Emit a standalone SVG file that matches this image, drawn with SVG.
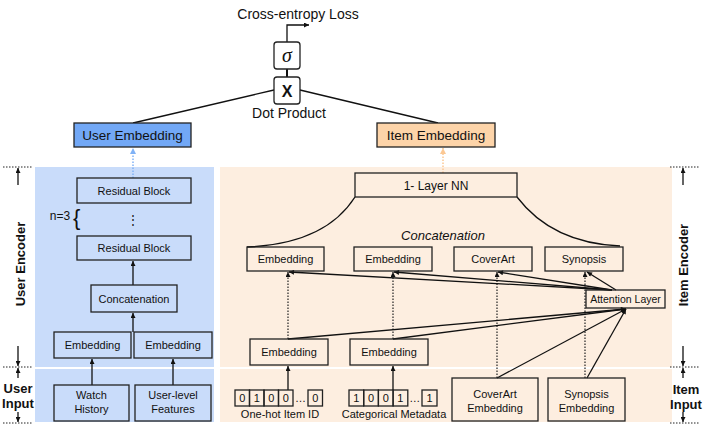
<svg xmlns="http://www.w3.org/2000/svg" width="706" height="426" viewBox="0 0 706 426">
<style>
.t{font-family:"Liberation Sans",Arial,sans-serif;fill:#111;text-anchor:middle}
.b{fill:none;stroke:#222;stroke-width:1.3}
.w{fill:#fff;stroke:#222;stroke-width:1.3}
.c{fill:none;stroke:#111;stroke-width:1.3}
.d{fill:none;stroke:#222;stroke-width:1.2;stroke-dasharray:1.5 1.5}
.g{fill:none;stroke:#222;stroke-width:1;stroke-dasharray:1.5 1.5}
.lb{font-family:"Liberation Sans",Arial,sans-serif;font-weight:bold;font-size:13px;fill:#111;text-anchor:middle}
</style>
<defs>
<marker id="ah" viewBox="0 0 10 10" refX="10" refY="5" markerWidth="6" markerHeight="5" orient="auto" markerUnits="userSpaceOnUse"><path d="M0,0 L10,5 L0,10 z" fill="#111"/></marker>
<marker id="ahb" viewBox="0 0 10 10" refX="10" refY="5" markerWidth="7" markerHeight="6" orient="auto" markerUnits="userSpaceOnUse"><path d="M0,0 L10,5 L0,10 z" fill="#80b2f6"/></marker>
<marker id="aho" viewBox="0 0 10 10" refX="10" refY="5" markerWidth="7" markerHeight="6" orient="auto" markerUnits="userSpaceOnUse"><path d="M0,0 L10,5 L0,10 z" fill="#fcc893"/></marker>
</defs>

<g id="panels">
<rect x="35" y="167" width="179" height="200" fill="#c9dcfa"/>
<rect x="35" y="369" width="179" height="53" fill="#c9dcfa"/>
<rect x="220" y="167" width="452" height="200" fill="#fdeee0"/>
<rect x="220" y="369" width="452" height="53" fill="#fdeee0"/>
</g>

<g id="guides">
<line x1="3" y1="167" x2="33" y2="167" class="g"/>
<line x1="3" y1="367" x2="33" y2="367" class="g"/>
<line x1="3" y1="423" x2="33" y2="423" class="g"/>
<line x1="18" y1="185" x2="18" y2="168" class="c" stroke-width="1" marker-end="url(#ah)"/>
<line x1="18" y1="346" x2="18" y2="366" class="c" stroke-width="1" marker-end="url(#ah)"/>
<line x1="18" y1="378" x2="18" y2="368" class="c" stroke-width="1" marker-end="url(#ah)"/>
<line x1="18" y1="412" x2="18" y2="422" class="c" stroke-width="1" marker-end="url(#ah)"/>
<text class="lb" transform="translate(24.5,264) rotate(-90)">User Encoder</text>
<text class="lb" x="18" y="393">User</text>
<text class="lb" x="18" y="408">Input</text>
<line x1="670" y1="167" x2="700" y2="167" class="g"/>
<line x1="670" y1="367" x2="700" y2="367" class="g"/>
<line x1="670" y1="423" x2="700" y2="423" class="g"/>
<line x1="683" y1="185" x2="683" y2="168" class="c" stroke-width="1" marker-end="url(#ah)"/>
<line x1="683" y1="346" x2="683" y2="366" class="c" stroke-width="1" marker-end="url(#ah)"/>
<line x1="683" y1="378" x2="683" y2="368" class="c" stroke-width="1" marker-end="url(#ah)"/>
<line x1="683" y1="412" x2="683" y2="422" class="c" stroke-width="1" marker-end="url(#ah)"/>
<text class="lb" transform="translate(688,265) rotate(-90)">Item Encoder</text>
<text class="lb" x="686" y="394">Item</text>
<text class="lb" x="686" y="409">Input</text>
</g>

<g id="connectors">
<polyline points="287,42 287,25 309,25" class="c" marker-end="url(#ah)"/>
<line x1="287" y1="69" x2="287" y2="77" stroke="#111" stroke-width="2"/>
<line x1="133" y1="123" x2="274" y2="90" class="c"/>
<line x1="300" y1="90" x2="438" y2="123" class="c"/>
<line x1="133" y1="178" x2="133" y2="148" stroke="#80b2f6" stroke-width="1.5" stroke-dasharray="1.5 1.5" marker-end="url(#ahb)"/>
<line x1="443" y1="173" x2="443" y2="148" stroke="#fcc893" stroke-width="1.5" stroke-dasharray="1.5 1.5" marker-end="url(#aho)"/>
<line x1="133" y1="285" x2="133" y2="261" class="c" marker-end="url(#ah)"/>
<line x1="133" y1="332" x2="133" y2="313" class="c" marker-end="url(#ah)"/>
<line x1="92" y1="385" x2="92" y2="359" class="c" marker-end="url(#ah)"/>
<line x1="173" y1="385" x2="173" y2="359" class="c" marker-end="url(#ah)"/>
<path d="M355,197 Q325,244 247,247" class="c"/>
<path d="M517,197 Q552,243 620,246" class="c"/>
<line x1="288" y1="339" x2="288" y2="272" class="d" marker-end="url(#ah)"/>
<line x1="393" y1="339" x2="393" y2="272" class="d" marker-end="url(#ah)"/>
<line x1="497" y1="378" x2="497" y2="272" class="d" marker-end="url(#ah)"/>
<line x1="585" y1="378" x2="585" y2="272" class="d" marker-end="url(#ah)"/>
<line x1="612" y1="290" x2="289" y2="272" class="c" marker-end="url(#ah)"/>
<line x1="612" y1="290" x2="394" y2="272" class="c" marker-end="url(#ah)"/>
<line x1="612" y1="290" x2="498" y2="272" class="c" marker-end="url(#ah)"/>
<line x1="616" y1="290" x2="587" y2="272" class="c" marker-end="url(#ah)"/>
<line x1="288" y1="339" x2="626" y2="309" class="c" marker-end="url(#ah)"/>
<line x1="393" y1="339" x2="626" y2="309" class="c" marker-end="url(#ah)"/>
<line x1="497" y1="378" x2="626" y2="309" class="c" marker-end="url(#ah)"/>
<line x1="587" y1="378" x2="626" y2="309" class="c" marker-end="url(#ah)"/>
<line x1="288" y1="390" x2="288" y2="366" class="c" marker-end="url(#ah)"/>
<line x1="393" y1="390" x2="393" y2="366" class="c" marker-end="url(#ah)"/>
</g>

<g id="loss"><text class="t" x="298" y="19" font-size="14">Cross-entropy Loss</text></g>
<g id="sigma"><rect x="274" y="42" width="26" height="27" rx="3" class="w"/><text x="287" y="62" text-anchor="middle" font-family="'Liberation Serif',serif" font-style="italic" font-size="20" fill="#111">σ</text></g>
<g id="dot"><rect x="274" y="77" width="26" height="27" rx="3" class="w"/><text class="t" x="287" y="97" font-size="16" font-weight="bold">X</text><text class="t" x="289" y="118" font-size="14">Dot Product</text></g>
<g id="user-emb"><rect x="74" y="123" width="117" height="24" fill="#72a8f6" stroke="#222" stroke-width="1.3"/><text class="t" x="132.5" y="140" font-size="13.5">User Embedding</text></g>
<g id="item-emb"><rect x="377" y="123" width="118" height="24" fill="#fdd4a9" stroke="#222" stroke-width="1.3"/><text class="t" x="436" y="140" font-size="13.5">Item Embedding</text></g>

<g id="res1"><rect x="77" y="178" width="114" height="25" class="b"/><text class="t" x="134" y="194.5" font-size="11">Residual Block</text></g>
<g id="repeat"><text class="t" x="60" y="220" font-size="12">n=3</text><text x="73" y="225" font-family="'Liberation Sans',sans-serif" font-size="22" fill="#111">{</text><text class="t" x="133" y="224" font-size="12" font-family="'DejaVu Sans',sans-serif">⋮</text></g>
<g id="res2"><rect x="77" y="236" width="114" height="24" class="b"/><text class="t" x="134" y="252" font-size="11">Residual Block</text></g>
<g id="concat-u"><rect x="91" y="285" width="86" height="27" class="b"/><text class="t" x="134" y="302.5" font-size="11">Concatenation</text></g>
<g id="emb-u1"><rect x="54" y="332" width="77" height="26" class="b"/><text class="t" x="92.5" y="349" font-size="11">Embedding</text></g>
<g id="emb-u2"><rect x="134" y="332" width="78" height="26" class="b"/><text class="t" x="173" y="349" font-size="11">Embedding</text></g>
<g id="watch"><rect x="54" y="385" width="75" height="36" class="b"/><text class="t" x="91.5" y="399" font-size="11">Watch</text><text class="t" x="91.5" y="413" font-size="11">History</text></g>
<g id="userfeat"><rect x="135" y="385" width="76" height="36" class="b"/><text class="t" x="173" y="399" font-size="11">User-level</text><text class="t" x="173" y="413" font-size="11">Features</text></g>

<g id="nn"><rect x="355" y="173" width="162" height="24" class="b"/><text class="t" x="436" y="189.5" font-size="12">1- Layer NN</text></g>
<g id="concat-i"><text class="t" x="443" y="240" font-size="13" font-style="italic">Concatenation</text></g>
<g id="emb-i1"><rect x="247" y="247" width="77" height="24" class="b"/><text class="t" x="285.5" y="263" font-size="11">Embedding</text></g>
<g id="emb-i2"><rect x="354" y="247" width="78" height="24" class="b"/><text class="t" x="393" y="263" font-size="11">Embedding</text></g>
<g id="coverart"><rect x="454" y="247" width="78" height="24" class="b"/><text class="t" x="493" y="263" font-size="11">CoverArt</text></g>
<g id="synopsis"><rect x="545" y="247" width="78" height="24" class="b"/><text class="t" x="584" y="263" font-size="11">Synopsis</text></g>
<g id="attention"><rect x="586" y="290" width="79" height="18" class="b"/><text class="t" x="625.5" y="303" font-size="10.5">Attention Layer</text></g>
<g id="emb-i3"><rect x="250" y="339" width="78" height="26" class="b"/><text class="t" x="289" y="356" font-size="11">Embedding</text></g>
<g id="emb-i4"><rect x="350" y="339" width="78" height="26" class="b"/><text class="t" x="389" y="356" font-size="11">Embedding</text></g>

<g id="onehot">
<rect x="235" y="390" width="14.5" height="16" class="b"/><rect x="249.5" y="390" width="14.5" height="16" class="b"/><rect x="264" y="390" width="14.5" height="16" class="b"/><rect x="278.5" y="390" width="14.5" height="16" class="b"/><rect x="308" y="390" width="14.5" height="16" class="b"/>
<text class="t" font-size="11" y="402"><tspan x="242.3">0</tspan><tspan x="256.8">1</tspan><tspan x="271.3">0</tspan><tspan x="285.8">0</tspan><tspan x="300.5">…</tspan><tspan x="315.3">0</tspan></text>
<text class="t" x="280" y="418" font-size="11">One-hot Item ID</text>
</g>
<g id="catmeta">
<rect x="349" y="390" width="14.7" height="16" class="b"/><rect x="363.7" y="390" width="14.7" height="16" class="b"/><rect x="378.4" y="390" width="14.7" height="16" class="b"/><rect x="393.1" y="390" width="14.7" height="16" class="b"/><rect x="422" y="390" width="15" height="16" class="b"/>
<text class="t" font-size="11" y="402"><tspan x="356.3">1</tspan><tspan x="371">0</tspan><tspan x="385.7">0</tspan><tspan x="400.4">1</tspan><tspan x="414.8">…</tspan><tspan x="429.5">1</tspan></text>
<text class="t" x="394" y="418" font-size="11">Categorical Metadata</text>
</g>
<g id="coverart-emb"><rect x="452" y="378" width="86" height="43" class="b"/><text class="t" x="495" y="398" font-size="11">CoverArt</text><text class="t" x="495" y="412" font-size="11">Embedding</text></g>
<g id="synopsis-emb"><rect x="548" y="378" width="77" height="43" class="b"/><text class="t" x="586.5" y="398" font-size="11">Synopsis</text><text class="t" x="586.5" y="412" font-size="11">Embedding</text></g>
</svg>
